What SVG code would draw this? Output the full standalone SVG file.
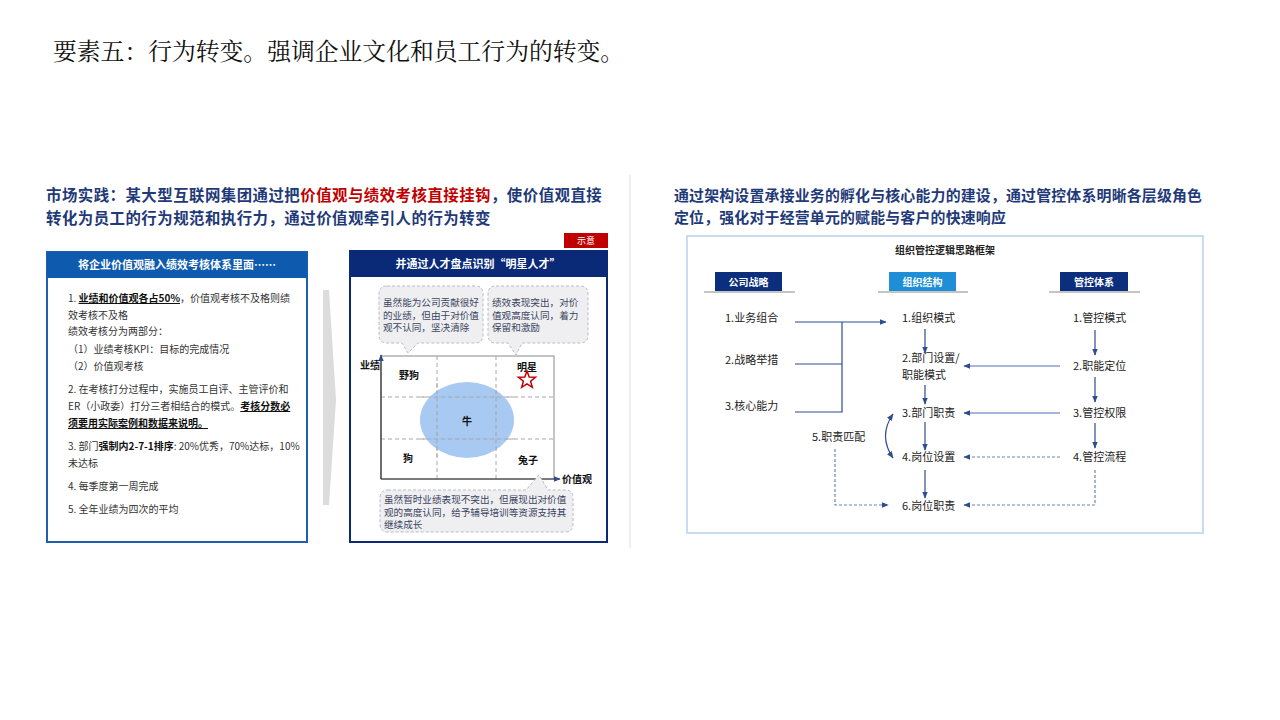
<svg xmlns="http://www.w3.org/2000/svg" width="1280" height="720" viewBox="0 0 1280 720">
<defs>
<style>
text{font-family:"Noto Sans CJK SC","Liberation Sans",sans-serif;}
.title{font-family:"Noto Serif CJK SC","Noto Sans CJK SC",serif;font-size:23.8px;fill:#111;}
.h{font-size:15.4px;letter-spacing:0.5px;font-weight:bold;fill:#1F3A78;}
.h2{font-size:14.9px;letter-spacing:0.2px;font-weight:bold;fill:#1F3A78;}
.red{fill:#C00000;}
.body{font-size:10px;fill:#333;}
.b{font-weight:bold;fill:#111;}
.u{font-weight:bold;fill:#111;text-decoration:underline;}
.hdr{font-size:11px;font-weight:bold;fill:#fff;}
.bub{fill:#EFEFF1;stroke:#B9BCC4;stroke-width:1;stroke-dasharray:3 2;}
.bt{font-size:9.6px;fill:#3A4460;}
.grid{stroke:#A8A8A8;stroke-width:1;stroke-dasharray:4 3;fill:none;}
.lbl{font-size:10px;fill:#111;font-weight:bold;}
.item{font-size:11px;fill:#222;}
.ch{font-size:10px;font-weight:bold;fill:#fff;}
.sl{stroke:#2F4C8C;stroke-width:1.2;fill:none;}
.hl{stroke:#4A6FB5;stroke-width:1.2;fill:none;}
.dl{stroke:#6E84B5;stroke-width:1.2;fill:none;stroke-dasharray:3 2;}
.ul{stroke:#8A8A8A;stroke-width:1;}
</style>
<marker id="ah" viewBox="0 0 10 10" refX="9" refY="5" markerWidth="6" markerHeight="6" orient="auto-start-reverse">
<path d="M0,1 L10,5 L0,9 Z" fill="#2F4C8C"/>
</marker>
</defs>
<rect width="1280" height="720" fill="#fff"/>

<text class="title" x="53" y="60">要素五：行为转变。强调企业文化和员工行为的转变。</text>

<!-- Left heading -->
<g id="left-heading">
<text class="h" x="46" y="201">市场实践：某大型互联网集团通过把<tspan class="red">价值观与绩效考核直接挂钩</tspan>，使价值观直接</text>
<text class="h" x="46" y="223.5">转化为员工的行为规范和执行力，通过价值观牵引人的行为转变</text>
</g>

<g id="tag">
<rect x="564" y="233" width="44" height="15" fill="#C00000"/>
<text x="586" y="244" font-size="9" fill="#fff" text-anchor="middle">示意</text>
</g>

<!-- Left box -->
<g id="box-left">
<rect x="47" y="252" width="260" height="290" fill="#fff" stroke="#1F5FAF" stroke-width="2"/>
<rect x="47" y="252" width="260" height="26" fill="#0E5AAE"/>
<text class="hdr" x="177" y="269" text-anchor="middle">将企业价值观融入绩效考核体系里面……</text>
<text class="body" x="68" y="302">1. <tspan class="u">业绩和价值观各占50%</tspan>，价值观考核不及格则绩</text>
<text class="body" x="68" y="319">效考核不及格</text>
<text class="body" x="68" y="335">绩效考核分为两部分：</text>
<text class="body" x="68" y="353">（1）业绩考核KPI：目标的完成情况</text>
<text class="body" x="68" y="370">（2）价值观考核</text>
<text class="body" x="68" y="393">2. 在考核打分过程中，实施员工自评、主管评价和</text>
<text class="body" x="68" y="410">ER（小政委）打分三者相结合的模式。<tspan class="u">考核分数必</tspan></text>
<text class="body" x="68" y="427"><tspan class="u">须要用实际案例和数据来说明。</tspan></text>
<text class="body" x="68" y="450">3. 部门<tspan class="b">强制内2-7-1排序</tspan>: 20%优秀，70%达标，10%</text>
<text class="body" x="68" y="467">未达标</text>
<text class="body" x="68" y="490">4. 每季度第一周完成</text>
<text class="body" x="68" y="513">5. 全年业绩为四次的平均</text>
</g>

<g id="chevron">
<polygon points="323,290 329,290 336,400 329,505 323,505" fill="#DCDCDC"/>
</g>

<!-- Middle box -->
<g id="box-mid">
<rect x="350" y="251" width="257" height="291" fill="#fff" stroke="#0A2A78" stroke-width="2"/>
<rect x="350" y="251" width="257" height="26" fill="#0A2A78"/>
<text class="hdr" x="478" y="268" text-anchor="middle">并通过人才盘点识别“明星人才”</text>
</g>

<g id="bubble-1">
<path class="bub" d="M387,286 H475 Q483,286 483,294 V335 Q483,343 475,343 H418 L408,353 L402,343 H387 Q379,343 379,335 V294 Q379,286 387,286 Z"/>
<text class="bt" x="383" y="306">虽然能为公司贡献很好</text>
<text class="bt" x="383" y="318.5">的业绩，但由于对价值</text>
<text class="bt" x="383" y="331">观不认同，坚决清除</text>
</g>
<g id="bubble-2">
<path class="bub" d="M496,286 H580 Q588,286 588,294 V335 Q588,343 580,343 H522 L516,355 L508,343 H496 Q488,343 488,335 V294 Q488,286 496,286 Z"/>
<text class="bt" x="492" y="306">绩效表现突出，对价</text>
<text class="bt" x="492" y="318.5">值观高度认同，着力</text>
<text class="bt" x="492" y="331">保留和激励</text>
</g>

<g id="matrix">
<rect x="381" y="356" width="173" height="123" fill="#fff" stroke="#8A8A8A" stroke-width="1"/>
<line class="grid" x1="437" y1="356" x2="437" y2="479"/>
<line class="grid" x1="496" y1="356" x2="496" y2="479"/>
<line class="grid" x1="381" y1="397" x2="554" y2="397"/>
<line class="grid" x1="381" y1="439" x2="554" y2="439"/>
<ellipse cx="467" cy="420" rx="47" ry="38" fill="#9EC3F0" opacity="0.9"/>
<line class="grid" x1="437" y1="383" x2="437" y2="457"/>
<line class="grid" x1="496" y1="390" x2="496" y2="450"/>
<line class="grid" x1="420" y1="397" x2="514" y2="397"/>
<line class="grid" x1="420" y1="439" x2="514" y2="439"/>
<line x1="381" y1="479" x2="381" y2="355" stroke="#333" stroke-width="1.2" marker-end="url(#ah)"/>
<line x1="381" y1="479" x2="560" y2="479" stroke="#333" stroke-width="1.2" marker-end="url(#ah)"/>
<text class="lbl" x="360" y="369">业绩</text>
<text class="lbl" x="562" y="483">价值观</text>
<text class="lbl" x="399" y="379">野狗</text>
<text class="lbl" x="517" y="371">明星</text>
<polygon points="527,371 529.2,376.9 535.6,377.2 530.6,381.2 532.3,387.3 527,383.8 521.7,387.3 523.4,381.2 518.4,377.2 524.8,376.9" fill="#fff" stroke="#C00000" stroke-width="1.5"/>
<text class="lbl" x="467" y="425" text-anchor="middle">牛</text>
<text class="lbl" x="408" y="462" text-anchor="middle">狗</text>
<text class="lbl" x="528" y="464" text-anchor="middle">兔子</text>
</g>

<g id="bubble-3">
<path class="bub" d="M388,490 H526 L539,475 L548,490 H565 Q573,490 573,498 V524 Q573,532 565,532 H388 Q380,532 380,524 V498 Q380,490 388,490 Z"/>
<text class="bt" x="384" y="503">虽然暂时业绩表现不突出，但展现出对价值</text>
<text class="bt" x="384" y="515.5">观的高度认同，给予辅导培训等资源支持其</text>
<text class="bt" x="384" y="528">继续成长</text>
</g>

<line x1="630" y1="175" x2="630" y2="548" stroke="#EEEEEE" stroke-width="2"/>

<!-- Right heading -->
<g id="right-heading">
<text class="h2" x="674" y="201">通过架构设置承接业务的孵化与核心能力的建设，通过管控体系明晰各层级角色</text>
<text class="h2" x="674" y="223">定位，强化对于经营单元的赋能与客户的快速响应</text>
</g>

<g id="frame">
<rect x="687" y="236" width="516" height="297" fill="#fff" stroke="#C9DCF0" stroke-width="2"/>
<text x="945" y="254" font-size="10" font-weight="bold" fill="#222" text-anchor="middle">组织管控逻辑思路框架</text>
</g>

<g id="col-strategy">
<rect x="715" y="272" width="67" height="19" fill="#0B2F7C"/>
<line class="ul" x1="704" y1="292" x2="795" y2="292"/>
<text class="ch" x="748.5" y="285.5" text-anchor="middle">公司战略</text>
</g>
<g id="col-structure">
<rect x="889" y="272" width="67" height="19" fill="#1E8FD6"/>
<line class="ul" x1="878" y1="292" x2="968" y2="292"/>
<text class="ch" x="922.5" y="285.5" text-anchor="middle">组织结构</text>
</g>
<g id="col-control">
<rect x="1060" y="272" width="68" height="19" fill="#0B2F7C"/>
<line class="ul" x1="1049" y1="292" x2="1140" y2="292"/>
<text class="ch" x="1094" y="285.5" text-anchor="middle">管控体系</text>
</g>

<g id="s1"><text class="item" x="725" y="322">1.业务组合</text></g>
<g id="s2"><text class="item" x="725" y="364">2.战略举措</text></g>
<g id="s3"><text class="item" x="725" y="410">3.核心能力</text></g>

<g id="o1"><text class="item" x="902" y="322">1.组织模式</text></g>
<g id="o2"><text class="item" x="902" y="362">2.部门设置/</text><text class="item" x="902" y="379">职能模式</text></g>
<g id="o3"><text class="item" x="902" y="417">3.部门职责</text></g>
<g id="o4"><text class="item" x="902" y="461">4.岗位设置</text></g>
<g id="o6"><text class="item" x="902" y="510">6.岗位职责</text></g>
<g id="o5"><text class="item" x="812" y="441">5.职责匹配</text></g>

<g id="c1"><text class="item" x="1073" y="322">1.管控模式</text></g>
<g id="c2"><text class="item" x="1073" y="370">2.职能定位</text></g>
<g id="c3"><text class="item" x="1073" y="417">3.管控权限</text></g>
<g id="c4"><text class="item" x="1073" y="461">4.管控流程</text></g>

<g id="connectors">
<path class="sl" d="M795,322 H886" marker-end="url(#ah)"/>
<path class="sl" d="M795,364 H842"/>
<path class="sl" d="M795,412 H842 V322"/>
<path class="sl" d="M925,329 V353" marker-end="url(#ah)"/>
<path class="sl" d="M925,385 V404" marker-end="url(#ah)"/>
<path class="sl" d="M925,422 V450" marker-end="url(#ah)"/>
<path class="sl" d="M925,470 V498" marker-end="url(#ah)"/>
<path class="sl" d="M893,414 Q878,436 893,458" marker-start="url(#ah)" marker-end="url(#ah)"/>
<path class="dl" d="M835,449 V505 H888" marker-end="url(#ah)"/>
<path class="sl" d="M1095,330 V355" marker-end="url(#ah)"/>
<path class="sl" d="M1095,377 V402" marker-end="url(#ah)"/>
<path class="sl" d="M1095,423 V448" marker-end="url(#ah)"/>
<path class="hl" d="M1060,366 H964" marker-end="url(#ah)"/>
<path class="hl" d="M1060,413 H964" marker-end="url(#ah)"/>
<path class="dl" d="M1060,457 H964" marker-end="url(#ah)"/>
<path class="dl" d="M1095,470 V505 H964" marker-end="url(#ah)"/>
</g>
</svg>
